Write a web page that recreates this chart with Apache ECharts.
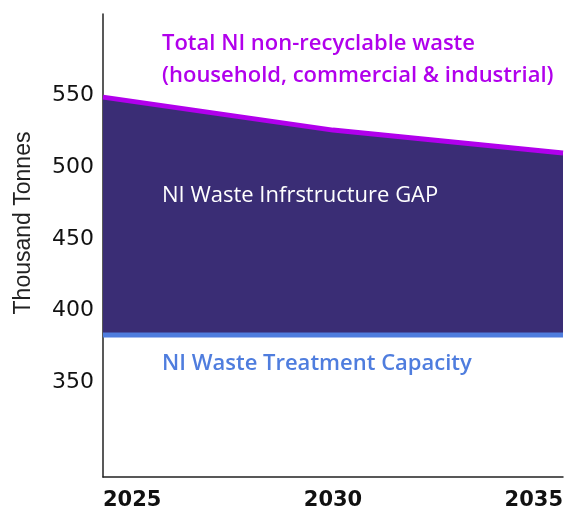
<!DOCTYPE html>
<html>
<head>
<meta charset="utf-8">
<script src="https://cdn.jsdelivr.net/npm/echarts@6/dist/echarts.min.js"></script>
<style>
  html, body { margin: 0; padding: 0; background: #fff; }
  #chart { width: 574px; height: 516px; }
</style>
</head>
<body>
<div id="chart"></div>
<script>
// data
const years = ["2025", "2030", "2035"];
const totalWaste = [549, 526, 510];
const capacity = [383, 383, 383];
const yTicks = [350, 400, 450, 500, 550];

const FONT = "'Open Sans', 'Noto Sans', sans-serif";
const NUM_FONT = "'DejaVu Sans', sans-serif";

const chart = echarts.init(document.getElementById("chart"));

chart.setOption({
  animation: false,
  grid: { left: 103, right: 11, top: 14, bottom: 39 },
  xAxis: {
    type: "category",
    data: years,
    boundaryGap: false,
    axisLine: { lineStyle: { color: "#222", width: 1.5 } },
    axisTick: { show: false },
    axisLabel: {
      color: "#111",
      fontFamily: NUM_FONT,
      fontWeight: "bold",
      fontSize: 21,
      margin: 13,
      alignMinLabel: "left",
      alignMaxLabel: "right"
    },
    splitLine: { show: false }
  },
  yAxis: {
    type: "value",
    min: 284,
    max: 607,
    axisLine: { show: true, lineStyle: { color: "#222", width: 1.5 } },
    axisTick: { show: false },
    splitLine: { show: false },
    axisLabel: {
      customValues: yTicks,
      color: "#111",
      fontFamily: NUM_FONT,
      fontSize: 22,
      margin: 9
    }
  },
  series: [
    {
      name: "Total NI non-recyclable waste",
      type: "line",
      data: totalWaste,
      symbol: "none",
      lineStyle: { color: "#b100ec", width: 5 },
      areaStyle: { color: "#3a2d75", opacity: 1, origin: capacity[0] },
      z: 2
    },
    {
      name: "NI Waste Treatment Capacity",
      type: "line",
      data: capacity,
      symbol: "none",
      lineStyle: { color: "#4f7dde", width: 5 },
      z: 3
    }
  ],
  graphic: [
    {
      type: "text", x: 24, y: 223, rotation: Math.PI / 2, z: 100,
      style: {
        text: "Thousand Tonnes", fill: "#222", align: "center", verticalAlign: "middle",
        font: "23px 'Liberation Sans', Arial, sans-serif"
      }
    },
    {
      type: "text", left: 162, top: 33, z: 100,
      style: { text: "Total NI non-recyclable waste", fill: "#b100ec", font: "600 22px " + FONT }
    },
    {
      type: "text", left: 162, top: 65, z: 100,
      style: { text: "(household, commercial & industrial)", fill: "#b100ec", font: "600 22px " + FONT }
    },
    {
      type: "text", left: 162, top: 185, z: 100,
      style: { text: "NI Waste Infrstructure GAP", fill: "#ffffff", font: "500 22px " + FONT }
    },
    {
      type: "text", left: 162, top: 353, z: 100,
      style: { text: "NI Waste Treatment Capacity", fill: "#4f7dde", font: "600 22px " + FONT }
    }
  ]
});
</script>
</body>
</html>
